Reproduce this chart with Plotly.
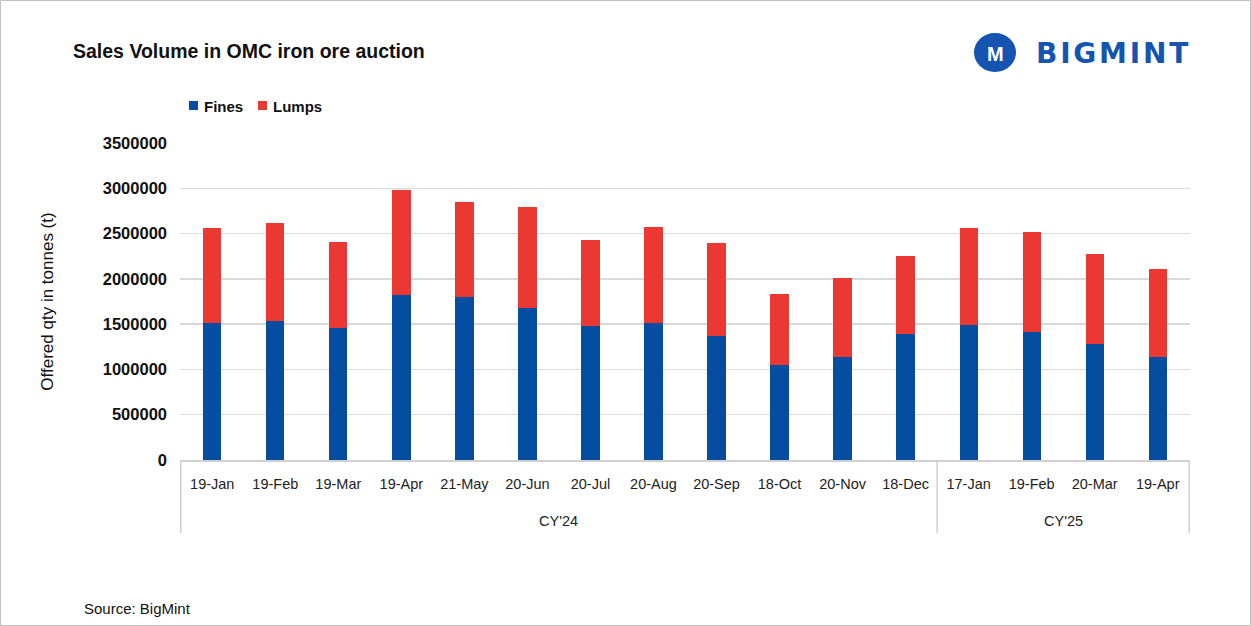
import plotly.graph_objects as go

months = ["19-Jan", "19-Feb", "19-Mar", "19-Apr", "21-May", "20-Jun", "20-Jul", "20-Aug",
          "20-Sep", "18-Oct", "20-Nov", "18-Dec", "17-Jan", "19-Feb", "20-Mar", "19-Apr"]
years = ["CY'24"] * 12 + ["CY'25"] * 4
fines = [1516000, 1538000, 1461000, 1825000, 1803000, 1678000, 1483000, 1516000,
         1372000, 1052000, 1141000, 1395000, 1491000, 1417000, 1284000, 1141000]
totals = [2561000, 2617000, 2407000, 2981000, 2849000, 2793000, 2429000, 2573000,
          2396000, 1833000, 2013000, 2252000, 2561000, 2517000, 2274000, 2109000]
lumps = [t - f for t, f in zip(totals, fines)]
ytick_vals = [0, 500000, 1000000, 1500000, 2000000, 2500000, 3000000, 3500000]

BLUE = "#044DA1"
RED = "#EC3833"
SANS = "Liberation Sans, Arial"

# unique category keys (month + year) so duplicates are kept in order
xcats = [f"{m} {y}" for m, y in zip(months, years)]

fig = go.Figure()
fig.add_trace(go.Bar(x=xcats, y=fines, name="Fines", marker_color=BLUE, marker_line_width=0))
fig.add_trace(go.Bar(x=xcats, y=lumps, name="Lumps", marker_color=RED, marker_line_width=0))

fig.update_layout(
    width=1251, height=626,
    barmode="stack", bargap=0.71,
    plot_bgcolor="white", paper_bgcolor="white",
    margin=dict(l=180, r=61, t=143, b=166),
    font=dict(family=SANS, color="#222222", size=15),
    showlegend=False,
)

fig.update_yaxes(range=[0, 3500000], tickvals=ytick_vals,
                 ticktext=[str(v) for v in ytick_vals],
                 showgrid=True, gridcolor="#D9D9D9", gridwidth=1.5,
                 zeroline=False, showline=False, ticks="",
                 tickfont=dict(family=SANS, size=16.5, color="#111111", weight="bold"),
                 ticklabelstandoff=12,
                 title=dict(text="Offered qty in tonnes (t)", standoff=44,
                            font=dict(family=SANS, size=17, color="#111111")))
fig.update_xaxes(type="category", categoryorder="array", categoryarray=xcats,
                 tickvals=xcats, ticktext=months,
                 showline=True, linecolor="#D0D0D0", linewidth=1.5, ticks="",
                 ticklabelstandoff=10,
                 tickfont=dict(family=SANS, size=14.5, color="#222222"))

# Group labels and dividers for the year axis
groups = []
for i, y in enumerate(years):
    if not groups or groups[-1][0] != y:
        groups.append([y, i, i])
    else:
        groups[-1][2] = i
y_top = 0
y_bot = (460 - 533) / 317
for g, i0, i1 in groups:
    fig.add_annotation(text=g, xref="x", yref="paper", x=(i0 + i1) / 2, y=(460 - 521) / 317,
                       xanchor="center", yanchor="middle", showarrow=False,
                       font=dict(family=SANS, size=14.5, color="#222222"))
for xb in [groups[0][1] - 0.5] + [g[2] + 0.5 for g in groups]:
    fig.add_shape(type="line", xref="x", yref="paper", x0=xb, x1=xb, y0=y_top, y1=y_bot,
                  line=dict(color="#D0D0D0", width=1.5))

# Title
fig.add_annotation(text="<b>Sales Volume in OMC iron ore auction</b>", xref="paper", yref="paper",
                   x=(71 - 180) / 1010, y=(460 - 51) / 317, xanchor="left", yanchor="middle",
                   showarrow=False, font=dict(family=SANS, size=19.5, color="#111111"))
# Legend (manual)
legend_items = [("Fines", BLUE), ("Lumps", RED)]
lx = [189, 258]
for (name, col), px in zip(legend_items, lx):
    fig.add_shape(type="rect", xref="paper", yref="paper",
                  x0=(px - 180) / 1010, x1=(px - 180 + 9) / 1010,
                  y0=(460 - 110) / 317, y1=(460 - 101) / 317,
                  fillcolor=col, line_width=0)
    fig.add_annotation(text=f"<b>{name}</b>", xref="paper", yref="paper",
                       x=(px - 180 + 13) / 1010, y=(460 - 106) / 317,
                       xanchor="left", yanchor="middle", showarrow=False,
                       font=dict(family=SANS, size=15, color="#111111"))
# Source
fig.add_annotation(text="Source: BigMint", xref="paper", yref="paper",
                   x=(82 - 180) / 1010, y=(460 - 608) / 317, xanchor="left", yanchor="middle",
                   showarrow=False, font=dict(family=SANS, size=15, color="#111111"))
# Logo
fig.add_shape(type="circle", xref="paper", yref="paper",
              x0=(974 - 180) / 1010, x1=(1016 - 180) / 1010,
              y0=(460 - 72) / 317, y1=(460 - 33) / 317,
              fillcolor="#1554B0", line_width=0)
fig.add_annotation(text="<b>M</b>", xref="paper", yref="paper",
                   x=(995 - 180) / 1010, y=(460 - 54) / 317, xanchor="center", yanchor="middle",
                   showarrow=False, font=dict(family=SANS, size=20, color="white"))
fig.add_annotation(text="<b>B\u200aI\u200aG\u200aM\u200aI\u200aN\u200aT</b>", xref="paper", yref="paper",
                   x=(1034 - 180) / 1010, y=(460 - 53) / 317, xanchor="left", yanchor="middle",
                   showarrow=False, font=dict(family="DejaVu Sans, Liberation Sans", size=28, color="#1554B0"))
# Outer border
fig.add_shape(type="rect", xref="paper", yref="paper",
              x0=-179.5 / 1010, x1=(1250.5 - 180) / 1010, y0=(460 - 625.5) / 317, y1=(460 - 0.5) / 317,
              line=dict(color="#BFBFBF", width=1), fillcolor="rgba(0,0,0,0)")

fig.write_html("out.html", config={"displayModeBar": False, "staticPlot": True},
               post_script="document.body.style.margin='0';document.body.style.overflow='hidden';")
